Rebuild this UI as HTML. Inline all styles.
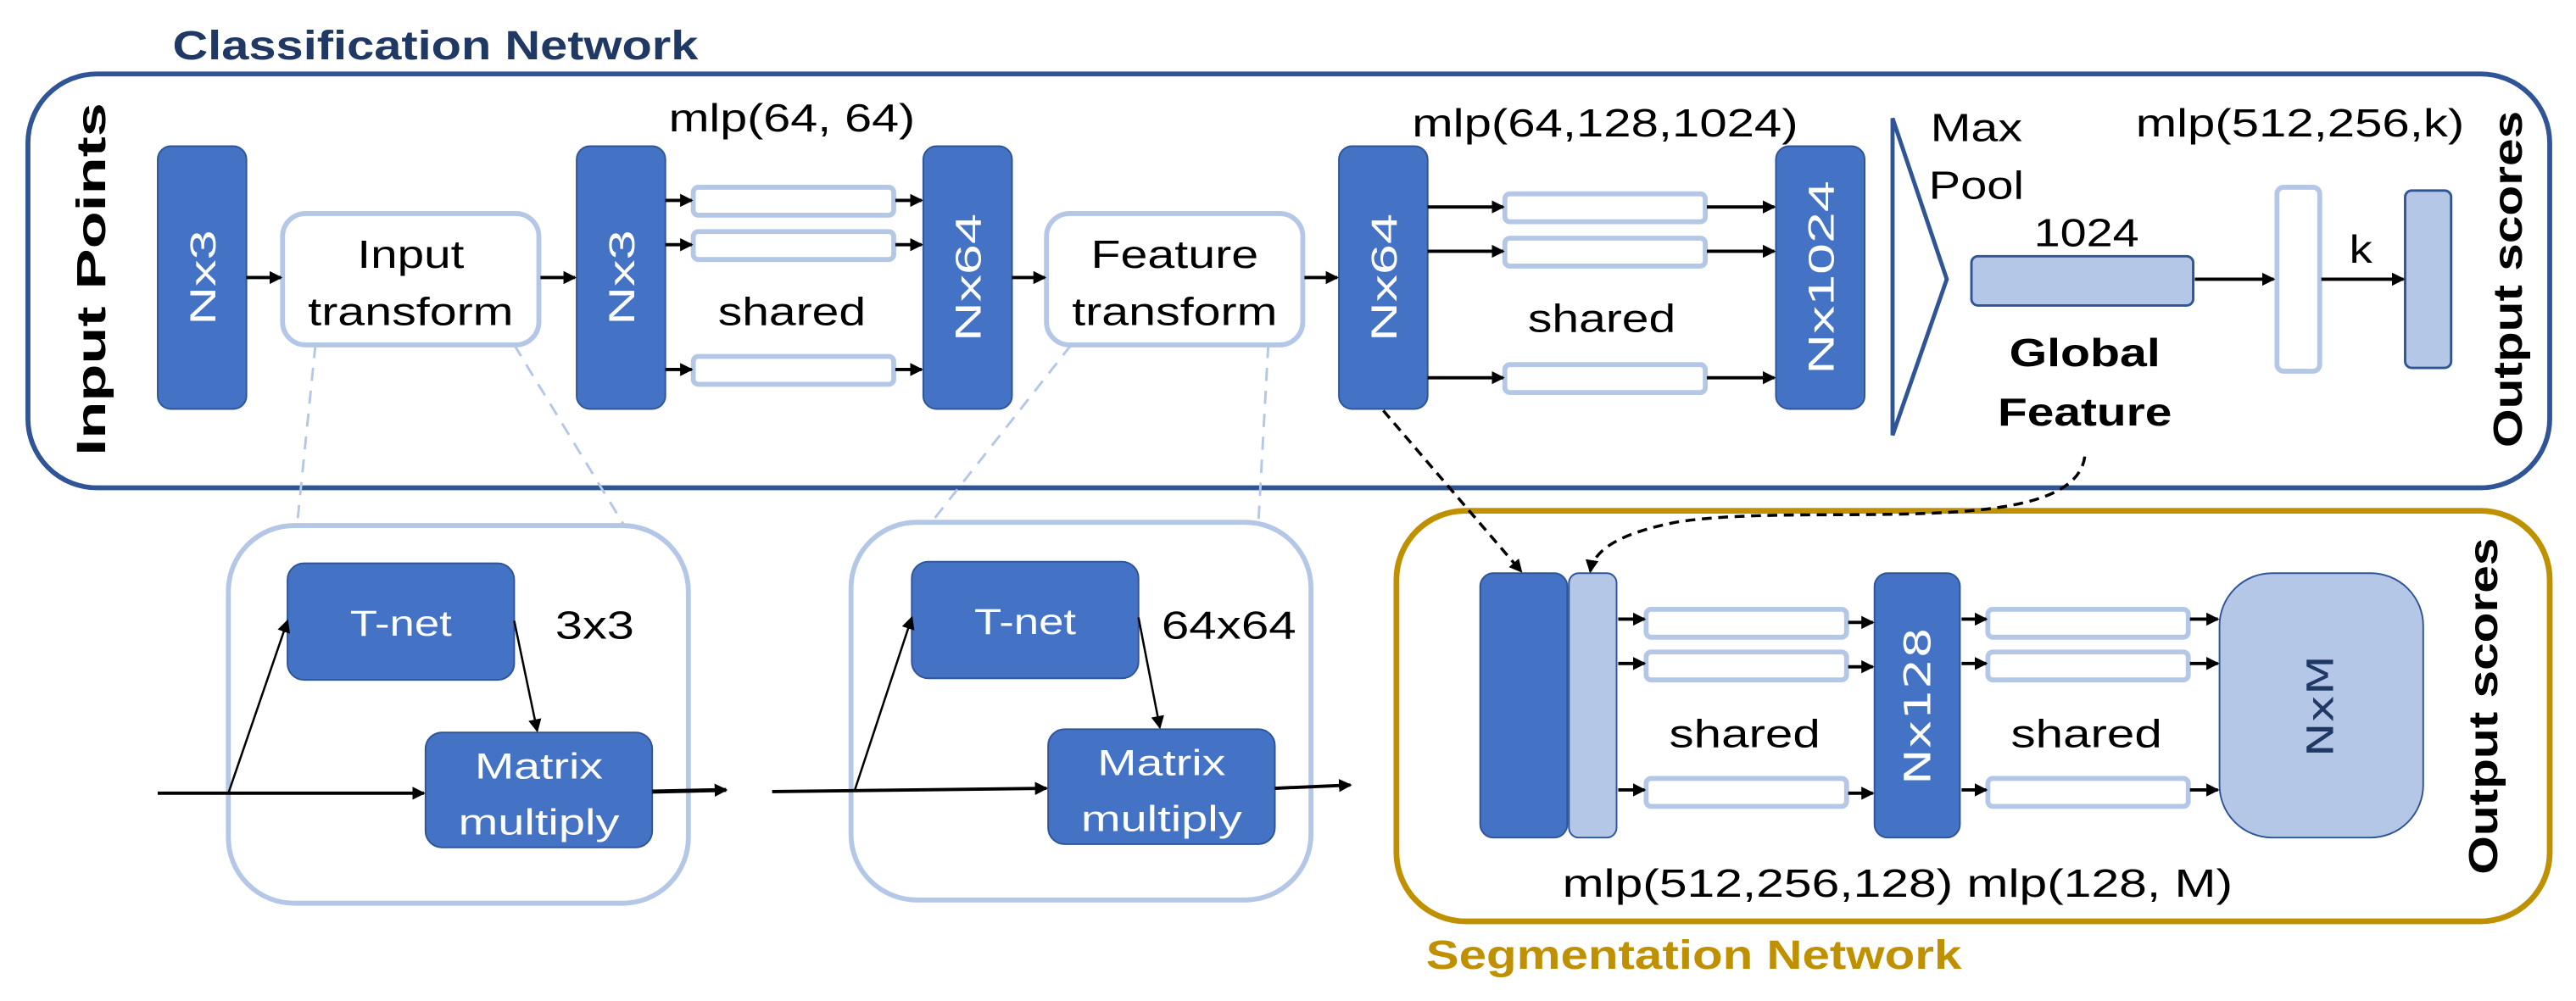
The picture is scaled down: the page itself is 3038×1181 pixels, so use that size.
<!DOCTYPE html>
<html><head><meta charset="utf-8"><style>
html,body{margin:0;padding:0;background:#fff;}
svg{display:block;}
text{font-family:"Liberation Sans",sans-serif;}
</style></head><body>
<svg width="3038" height="1181" viewBox="0 0 1568 609.5" xmlns="http://www.w3.org/2000/svg">
<defs>
<marker id="a" markerWidth="8" markerHeight="8" refX="7" refY="4" orient="auto" markerUnits="userSpaceOnUse"><path d="M0,0 L8,4 L0,8 z" fill="#000"/></marker>
</defs>
<!-- Classification -->
<text x="105" y="36" font-size="25" font-weight="bold" fill="#203864" textLength="320" lengthAdjust="spacingAndGlyphs">Classification Network</text>
<rect x="17" y="45" width="1535" height="252" rx="42" fill="none" stroke="#2F5597" stroke-width="3"/>
<text transform="translate(64,170) rotate(-90)" text-anchor="middle" font-size="25" font-weight="bold" textLength="215" lengthAdjust="spacingAndGlyphs">Input Points</text>
<text transform="translate(1535,170) rotate(-90)" text-anchor="middle" font-size="25" font-weight="bold" textLength="205" lengthAdjust="spacingAndGlyphs">Output scores</text>

<!-- dashed light lines -->
<g stroke="#B4C7E7" stroke-width="1.5" stroke-dasharray="8,6" fill="none">
<line x1="192" y1="210" x2="181" y2="318"/><line x1="313" y1="210" x2="380" y2="320"/>
<line x1="652" y1="210" x2="567" y2="318"/><line x1="772" y1="210" x2="766" y2="318"/>
</g>

<g fill="#4472C4" stroke="#2F5597" stroke-width="1">
<rect x="96" y="89" width="54" height="160" rx="8"/>
<rect x="351" y="89" width="54" height="160" rx="8"/>
<rect x="562" y="89" width="54" height="160" rx="8"/>
<rect x="815" y="89" width="54" height="160" rx="8"/>
<rect x="1081" y="89" width="54" height="160" rx="8"/>
</g>
<g fill="#fff" font-size="22" text-anchor="middle" style="font-family:'DejaVu Sans',sans-serif">
<text transform="translate(131,169) rotate(-90)" textLength="58" lengthAdjust="spacingAndGlyphs">Nx3</text>
<text transform="translate(386,169) rotate(-90)" textLength="58" lengthAdjust="spacingAndGlyphs">Nx3</text>
<text transform="translate(597,169) rotate(-90)" textLength="78" lengthAdjust="spacingAndGlyphs">Nx64</text>
<text transform="translate(850,169) rotate(-90)" textLength="78" lengthAdjust="spacingAndGlyphs">Nx64</text>
<text transform="translate(1116,169) rotate(-90)" textLength="118" lengthAdjust="spacingAndGlyphs">Nx1024</text>
</g>
<g fill="#fff" stroke="#B4C7E7" stroke-width="3">
<rect x="172" y="130" width="156" height="80" rx="14"/>
<rect x="637" y="130" width="156" height="80" rx="14"/>
</g>
<g font-size="24" text-anchor="middle">
<text x="250" y="163" textLength="65" lengthAdjust="spacingAndGlyphs">Input</text>
<text x="250" y="198" textLength="125" lengthAdjust="spacingAndGlyphs">transform</text>
<text x="715" y="163" textLength="102" lengthAdjust="spacingAndGlyphs">Feature</text>
<text x="715" y="198" textLength="125" lengthAdjust="spacingAndGlyphs">transform</text>
<text x="482" y="80" textLength="150" lengthAdjust="spacingAndGlyphs">mlp(64, 64)</text>
<text x="482" y="198" textLength="90" lengthAdjust="spacingAndGlyphs">shared</text>
<text x="977" y="83" textLength="235" lengthAdjust="spacingAndGlyphs">mlp(64,128,1024)</text>
<text x="975" y="202" textLength="90" lengthAdjust="spacingAndGlyphs">shared</text>
<text x="1203" y="86" textLength="56" lengthAdjust="spacingAndGlyphs">Max</text>
<text x="1203" y="121" textLength="58" lengthAdjust="spacingAndGlyphs">Pool</text>
<text x="1270" y="150" textLength="64" lengthAdjust="spacingAndGlyphs">1024</text>
<text x="1400" y="83" textLength="200" lengthAdjust="spacingAndGlyphs">mlp(512,256,k)</text>
<text x="1437" y="160" textLength="14" lengthAdjust="spacingAndGlyphs">k</text>
<text x="1269" y="223" font-weight="bold" textLength="92" lengthAdjust="spacingAndGlyphs">Global</text>
<text x="1269" y="259" font-weight="bold" textLength="106" lengthAdjust="spacingAndGlyphs">Feature</text>
</g>
<!-- small rects -->
<g fill="#fff" stroke="#B4C7E7" stroke-width="3">
<rect x="422" y="114" width="122" height="17" rx="3"/><rect x="422" y="141" width="122" height="17" rx="3"/><rect x="422" y="217" width="122" height="17" rx="3"/>
<rect x="916" y="118" width="122" height="17" rx="3"/><rect x="916" y="145" width="122" height="17" rx="3"/><rect x="916" y="222" width="122" height="17" rx="3"/>
<rect x="1386" y="114" width="26" height="112" rx="4"/>
</g>
<rect x="1200" y="156" width="135" height="30" rx="4" fill="#B4C7E7" stroke="#2F5597" stroke-width="1.5"/>
<rect x="1464" y="116" width="28" height="108" rx="4" fill="#B4C7E7" stroke="#2F5597" stroke-width="1.5"/>
<path d="M1152,72 L1185,170 L1152,265 Z" fill="#fff" stroke="#2F5597" stroke-width="2.5" stroke-linejoin="miter"/>
<g stroke="#000" stroke-width="2" marker-end="url(#a)">
<line x1="150" y1="169" x2="171" y2="169"/><line x1="329" y1="169" x2="350" y2="169"/>
<line x1="616" y1="169" x2="636" y2="169"/><line x1="794" y1="169" x2="814" y2="169"/>
<line x1="405" y1="122" x2="421" y2="122"/><line x1="405" y1="149" x2="421" y2="149"/><line x1="405" y1="225" x2="421" y2="225"/>
<line x1="545" y1="122" x2="561" y2="122"/><line x1="545" y1="149" x2="561" y2="149"/><line x1="545" y1="225" x2="561" y2="225"/>
<line x1="869" y1="126" x2="915" y2="126"/><line x1="869" y1="153" x2="915" y2="153"/><line x1="869" y1="230" x2="915" y2="230"/>
<line x1="1039" y1="126" x2="1080" y2="126"/><line x1="1039" y1="153" x2="1080" y2="153"/><line x1="1039" y1="230" x2="1080" y2="230"/>
<line x1="1336" y1="170" x2="1384" y2="170"/><line x1="1413" y1="170" x2="1463" y2="170"/>
</g>

<!-- T-net boxes -->
<g fill="none" stroke="#B4C7E7" stroke-width="3">
<rect x="139" y="320" width="280" height="230" rx="40"/>
<rect x="518" y="318" width="280" height="230" rx="40"/>
</g>
<g fill="#4472C4" stroke="#2F5597" stroke-width="1">
<rect x="175" y="343" width="138" height="71" rx="10"/>
<rect x="259" y="446" width="138" height="70" rx="10"/>
<rect x="555" y="342" width="138" height="71" rx="10"/>
<rect x="638" y="444" width="138" height="70" rx="10"/>
</g>
<g fill="#fff" font-size="22" text-anchor="middle" style="font-family:'DejaVu Sans',sans-serif">
<text x="244" y="387" textLength="62" lengthAdjust="spacingAndGlyphs">T-net</text>
<text x="624" y="386" textLength="62" lengthAdjust="spacingAndGlyphs">T-net</text>
<text x="328" y="474" textLength="78" lengthAdjust="spacingAndGlyphs">Matrix</text>
<text x="328" y="508" textLength="98" lengthAdjust="spacingAndGlyphs">multiply</text>
<text x="707" y="472" textLength="78" lengthAdjust="spacingAndGlyphs">Matrix</text>
<text x="707" y="506" textLength="98" lengthAdjust="spacingAndGlyphs">multiply</text>
</g>
<g font-size="24">
<text x="338" y="389" textLength="48" lengthAdjust="spacingAndGlyphs">3x3</text>
<text x="707" y="389" textLength="82" lengthAdjust="spacingAndGlyphs">64x64</text>
</g>
<g stroke="#000" fill="none" marker-end="url(#a)">
<line x1="96" y1="483" x2="258" y2="483" stroke-width="2"/>
<line x1="139" y1="483" x2="175" y2="378" stroke-width="1.3"/>
<line x1="313" y1="378" x2="327" y2="445" stroke-width="1.3"/>
<line x1="397" y1="482" x2="442" y2="481" stroke-width="2.5"/>
<line x1="470" y1="482" x2="637" y2="480" stroke-width="2"/>
<line x1="520" y1="482" x2="555" y2="376" stroke-width="1.3"/>
<line x1="693" y1="376" x2="706" y2="443" stroke-width="1.3"/>
<line x1="776" y1="480" x2="822" y2="478" stroke-width="2"/>
</g>

<!-- Segmentation -->
<rect x="850" y="311" width="702" height="250" rx="42" fill="none" stroke="#BF9000" stroke-width="3.5"/>
<text x="868" y="590" font-size="25" font-weight="bold" fill="#BF9000" textLength="326" lengthAdjust="spacingAndGlyphs">Segmentation Network</text>
<text transform="translate(1520,430) rotate(-90)" text-anchor="middle" font-size="25" font-weight="bold" textLength="205" lengthAdjust="spacingAndGlyphs">Output scores</text>
<rect x="901" y="349" width="53" height="161" rx="8" fill="#4472C4" stroke="#2F5597"/>
<rect x="955" y="349" width="29" height="161" rx="6" fill="#B4C7E7" stroke="#2F5597"/>
<rect x="1141" y="349" width="52" height="161" rx="8" fill="#4472C4" stroke="#2F5597"/>
<rect x="1351" y="349" width="124" height="161" rx="32" fill="#B4C7E7" stroke="#2F5597"/>
<text transform="translate(1175,430) rotate(-90)" fill="#fff" font-size="22" text-anchor="middle" style="font-family:'DejaVu Sans',sans-serif" textLength="96" lengthAdjust="spacingAndGlyphs">Nx128</text>
<text transform="translate(1420,430) rotate(-90)" fill="#203864" font-size="22" text-anchor="middle" style="font-family:'DejaVu Sans',sans-serif" textLength="62" lengthAdjust="spacingAndGlyphs">NxM</text>
<g fill="#fff" stroke="#B4C7E7" stroke-width="3">
<rect x="1002" y="371" width="122" height="17" rx="3"/><rect x="1002" y="397" width="122" height="17" rx="3"/><rect x="1002" y="474" width="122" height="17" rx="3"/>
<rect x="1210" y="371" width="122" height="17" rx="3"/><rect x="1210" y="397" width="122" height="17" rx="3"/><rect x="1210" y="474" width="122" height="17" rx="3"/>
</g>
<g stroke="#000" stroke-width="2" marker-end="url(#a)">
<line x1="985" y1="377" x2="1001" y2="377"/><line x1="985" y1="404" x2="1001" y2="404"/><line x1="985" y1="481" x2="1001" y2="481"/>
<line x1="1125" y1="379" x2="1140" y2="379"/><line x1="1125" y1="406" x2="1140" y2="406"/><line x1="1125" y1="483" x2="1140" y2="483"/>
<line x1="1194" y1="377" x2="1209" y2="377"/><line x1="1194" y1="404" x2="1209" y2="404"/><line x1="1194" y1="481" x2="1209" y2="481"/>
<line x1="1333" y1="377" x2="1350" y2="377"/><line x1="1333" y1="404" x2="1350" y2="404"/><line x1="1333" y1="481" x2="1350" y2="481"/>
</g>
<g font-size="24" text-anchor="middle">
<text x="1062" y="455" textLength="92" lengthAdjust="spacingAndGlyphs">shared</text>
<text x="1270" y="455" textLength="92" lengthAdjust="spacingAndGlyphs">shared</text>
<text x="1155" y="546" textLength="408" lengthAdjust="spacingAndGlyphs">mlp(512,256,128) mlp(128, M)</text>
</g>
<g stroke="#000" stroke-width="1.8" stroke-dasharray="6,4" fill="none" marker-end="url(#a)">
<line x1="842" y1="250" x2="926" y2="348"/>
<path d="M1269,278 C1262,330 1100,305 1020,318 C985,325 970,335 968,348"/>
</g>
</svg>
</body></html>
